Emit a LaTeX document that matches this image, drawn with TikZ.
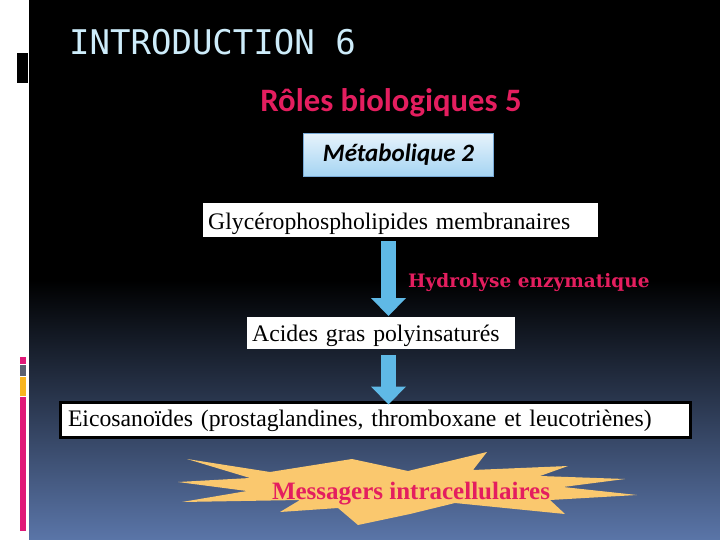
\documentclass[tikz,border=0pt]{standalone}
\usepackage{fontspec}
\setmainfont{Liberation Serif}
\newfontfamily\calfont{Carlito}
\newfontfamily\titlefont{DejaVu Sans Mono}
\newfontfamily\heavyfont{DejaVu Serif}
\usetikzlibrary{arrows.meta,shadows}

\definecolor{titleblue}{RGB}{205,236,250}
\definecolor{rolepink}{RGB}{228,30,95}
\definecolor{bgblue}{RGB}{90,117,168}
\definecolor{arrowblue}{RGB}{95,185,230}
\definecolor{starfill}{RGB}{250,200,110}
\definecolor{barpink}{RGB}{224,25,120}
\definecolor{bargray}{RGB}{90,96,112}
\definecolor{barorange}{RGB}{248,181,32}
\definecolor{metabtop}{RGB}{230,243,252}
\definecolor{metabbot}{RGB}{165,212,242}
\definecolor{metabline}{RGB}{120,170,215}

\begin{document}
\begin{tikzpicture}[x=1pt,y=-1pt,
    textbox/.style={fill=white, anchor=north west, inner xsep=5pt, inner ysep=0pt,
      align=left, font=\fontsize{23.7}{27}\selectfont},
    bigarrow/.style={draw=arrowblue, line width=15pt,
      -{Triangle[length=18pt,width=35pt,line width=0pt]}}]
  \useasboundingbox (0,0) rectangle (720,540);
  % slide background
  \fill[white] (0,0) rectangle (29,540);
  \fill[black] (29,0) rectangle (720,280);
  \shade[top color=black, bottom color=bgblue] (29,280) rectangle (720,540);
  \fill[black] (17,53) rectangle (28,83);
  \foreach \ya/\yb/\c in {357/364/barpink,365/376/bargray,377/396/barorange,397/531/barpink}
    \fill[\c] (20,\ya) rectangle (26,\yb);

  \node[anchor=base west, inner sep=0pt, text=titleblue,
    font=\titlefont\fontsize{34}{40}\selectfont] (title) at (69,55) {INTRODUCTION 6};
  \node[anchor=base, inner sep=0pt, text=rolepink,
    font=\calfont\bfseries\fontsize{32.7}{38}\selectfont] (roles) at (391,112) {Rôles biologiques 5};
  \node[anchor=north west, minimum width=190pt, minimum height=43pt, inner sep=0pt,
    top color=metabtop, bottom color=metabbot, draw=metabline, line width=1pt,
    font=\calfont\bfseries\itshape\fontsize{25}{30}\selectfont] (metab) at (303,133) {Métabolique 2};

  \node[textbox, text width=385pt, text height=26pt, text depth=8pt] (glyc) at (203,203)
    {Glycérophospholipides membranaires};
  \node[textbox, text width=258pt, text height=24pt, text depth=8pt] (acides) at (247,317)
    {Acides gras polyinsaturés};
  \node[textbox, draw=black, line width=3pt, inner xsep=8pt, text width=614pt,
    text height=24.5pt, text depth=10.5pt,
    drop shadow={shadow xshift=2pt, shadow yshift=-2pt, fill=gray}]
    (eico) at (58.5,400.5)
    {Eicosanoïdes (prostaglandines, thromboxane et leucotriènes)};

  \node[anchor=base west, inner sep=0pt, text=rolepink,
    font=\heavyfont\bfseries\fontsize{18.5}{22}\selectfont] (hydro) at (408,287) {Hydrolyse enzymatique};

  % arrows between the boxes
  \coordinate (ax) at (388.5,0);
  \draw[bigarrow, shorten <=4pt, shorten >=1pt] (glyc.south -| ax) -- (acides.north -| ax);
  \draw[bigarrow, shorten <=6pt, shorten >=-4pt] (acides.south -| ax) -- (eico.north -| ax);

  % star
  \fill[starfill] (187,459) -- (270,472) -- (352,459) -- (408,471) -- (487,452)
    -- (473,470) -- (568,466) -- (540,476) -- (625,479) -- (563,487) -- (637,495)
    -- (550,500) -- (565,514) -- (455,503) -- (410,514) -- (358,525) -- (338,508)
    -- (280,512) -- (300,500) -- (182,502) -- (247,491) -- (178,482) -- (250,478) -- cycle;
  \node[anchor=base, inner sep=0pt, text=rolepink,
    font=\bfseries\fontsize{25}{30}\selectfont] (msg) at (411,499) {Messagers intracellulaires};
\end{tikzpicture}
\end{document}
